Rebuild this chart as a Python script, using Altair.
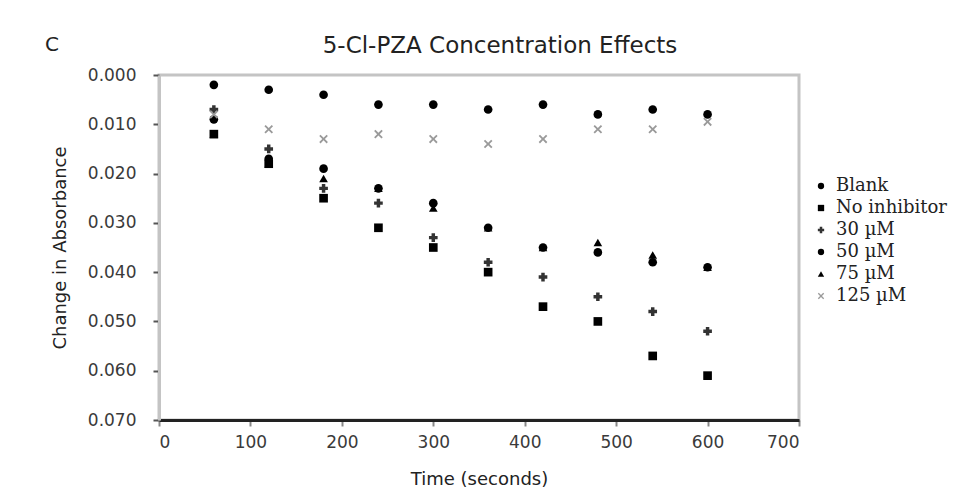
import altair as alt
import pandas as pd

times = [60, 120, 180, 240, 300, 360, 420, 480, 540, 600]
series_names = ["Blank", "No inhibitor", "30 µM", "50 µM", "75 µM", "125 µM"]
blank = [0.002, 0.003, 0.004, 0.006, 0.006, 0.007, 0.006, 0.008, 0.007, 0.008]
no_inhibitor = [0.012, 0.018, 0.025, 0.031, 0.035, 0.040, 0.047, 0.050, 0.057, 0.061]
um30 = [0.007, 0.015, 0.023, 0.026, 0.033, 0.038, 0.041, 0.045, 0.048, 0.052]
um50 = [0.009, 0.017, 0.019, 0.023, 0.026, 0.031, 0.035, 0.036, 0.038, 0.039]
um75 = [0.012, 0.018, 0.021, 0.023, 0.027, 0.031, 0.035, 0.034, 0.0365, 0.039]
um125 = [0.008, 0.011, 0.013, 0.012, 0.013, 0.014, 0.013, 0.011, 0.011, 0.0095]
x_ticks = [0, 100, 200, 300, 400, 500, 600, 700]
y_ticks = [0.0, 0.01, 0.02, 0.03, 0.04, 0.05, 0.06, 0.07]

rows = []
for name, vals in zip(series_names, [blank, no_inhibitor, um30, um50, um75, um125]):
    for t, v in zip(times, vals):
        rows.append({"Time": t, "Absorbance": v, "Series": name})
df = pd.DataFrame(rows)

x_shape = "M-1,-0.7L-0.7,-1L0,-0.3L0.7,-1L1,-0.7L0.3,0L1,0.7L0.7,1L0,0.3L-0.7,1L-1,0.7L-0.3,0Z"
colors = ["#000000", "#000000", "#333333", "#000000", "#000000", "#9a9a9a"]
shapes = ["circle", "square", "cross", "circle", "triangle-up", x_shape]

legend = alt.Legend(
    title=None, orient="none", legendX=653, legendY=102,
    labelFont="DejaVu Serif", labelFontSize=18, labelColor="#222222",
    symbolSize=40, rowPadding=4, labelOffset=6, padding=0,
)

points = alt.Chart(df).mark_point(filled=True, opacity=1, size=75).encode(
    x=alt.X("Time:Q", scale=alt.Scale(domain=[0, 700], nice=False),
            axis=alt.Axis(values=x_ticks, title="Time (seconds)", labelPadding=8, titlePadding=20)),
    y=alt.Y("Absorbance:Q", scale=alt.Scale(domain=[0, 0.07], reverse=True, nice=False),
            axis=alt.Axis(values=y_ticks, format=".3f", title="Change in Absorbance",
                          labelPadding=17, titlePadding=18)),
    color=alt.Color("Series:N", scale=alt.Scale(domain=series_names, range=colors), legend=legend),
    shape=alt.Shape("Series:N", scale=alt.Scale(domain=series_names, range=shapes), legend=legend),
)

panel_label = alt.Chart(pd.DataFrame({"label": ["C"]})).mark_text(
    font="DejaVu Sans", fontSize=20, color="#222222", align="center", baseline="middle"
).encode(text="label:N", x=alt.value(-107), y=alt.value(-30))

chart = alt.layer(points, panel_label).properties(
    width=640, height=345,
    title=alt.TitleParams("5-Cl-PZA Concentration Effects", anchor="middle", dx=21, offset=-23,
                          font="DejaVu Sans", fontSize=23, fontWeight="normal", color="#222222"),
    autosize=alt.AutoSizeParams(type="none"),
    padding={"left": 151, "top": 67, "right": 150, "bottom": 68},
).configure_view(
    stroke="#c4c4c4", strokeWidth=3
).configure_axis(
    grid=False, labelFont="DejaVu Sans", labelFontSize=17, labelColor="#3a3a3a",
    titleFont="DejaVu Sans", titleFontSize=18, titleFontWeight="normal", titleColor="#222222",
).configure_axisX(
    domainColor="#222222", domainWidth=3, tickColor="#888888", tickSize=6, tickWidth=2,
).configure_axisY(
    domainColor="#c4c4c4", domainWidth=3, tickColor="#555555", tickSize=6, tickWidth=2,
)

chart.save("out.html", embed_options={"renderer": "svg", "actions": False})
